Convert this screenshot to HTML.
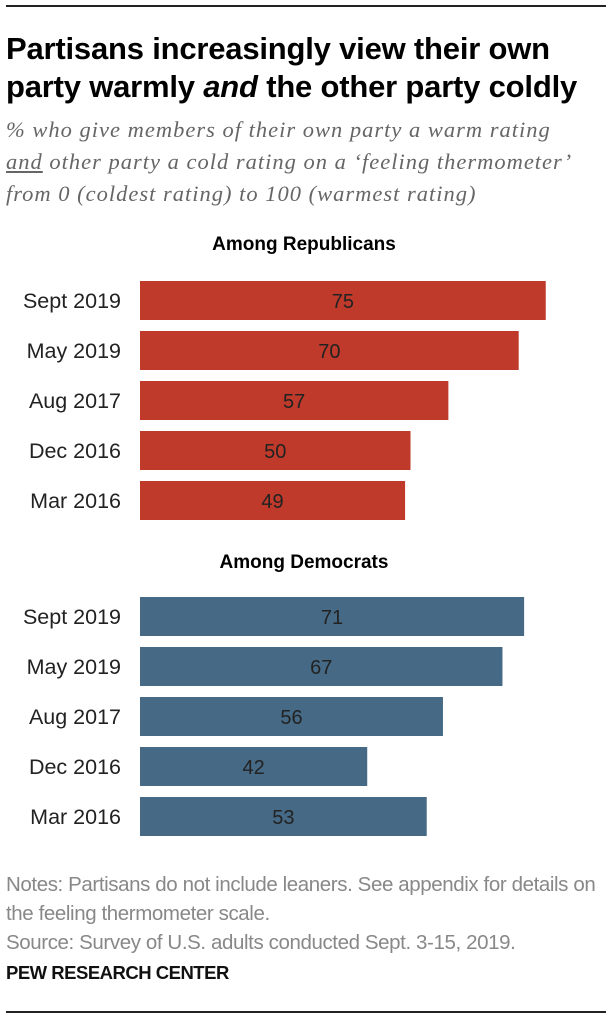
<!DOCTYPE html>
<html><head><meta charset="utf-8"><style>
body{margin:0;width:608px;height:1024px;background:#fff;position:relative;overflow:hidden;font-family:"Liberation Sans",sans-serif}
.abs{position:absolute}
</style></head><body>
<div class="abs" style="left:6px;top:5px;width:600px;height:2px;background:#222"></div>
<div class="abs" style="left:6px;top:30px;width:610px;font-size:31px;font-weight:bold;line-height:38px;color:#000;letter-spacing:-0.2px;white-space:nowrap">Partisans increasingly view their own<br>party warmly <i>and</i> the other party coldly</div>
<div class="abs" style="left:6px;top:114px;width:610px;font-family:'Liberation Serif',serif;font-style:italic;font-size:22.5px;line-height:32px;color:#666;letter-spacing:1px;white-space:nowrap">% who give members of their own party a warm rating<br><u>and</u> other party a cold rating on a ‘feeling thermometer’<br>from 0 (coldest rating) to 100 (warmest rating)</div>
<svg class="abs" style="left:0;top:0" width="608" height="1024" id="chart"></svg>
<div class="abs" style="left:6px;top:870px;width:610px;font-size:20.5px;line-height:30px;color:#888;white-space:nowrap;letter-spacing:-0.4px"><div style="line-height:29px">Notes: Partisans do not include leaners. See appendix for details on<br>the feeling thermometer scale.</div><div style="line-height:30px">Source: Survey of U.S. adults conducted Sept. 3-15, 2019.</div></div>
<div class="abs" style="left:6px;top:962px;font-size:18.5px;font-weight:bold;color:#111;letter-spacing:-0.5px">PEW RESEARCH CENTER</div>
<div class="abs" style="left:6px;top:1011px;width:600px;height:2px;background:#222"></div>
<script>
const categories=["Sept 2019","May 2019","Aug 2017","Dec 2016","Mar 2016"];
const repValues=[75,70,57,50,49];
const demValues=[71,67,56,42,53];
const svg=document.getElementById('chart');
const NS='http://www.w3.org/2000/svg';
const x0=140,scale=5.41;
function xPos(v){return x0+v*scale;}
function group(title,titleY,top,vals,color,key){
  const t=document.createElementNS(NS,'text');
  
  
  t.setAttribute('x',304);t.setAttribute('y',titleY);t.setAttribute('text-anchor','middle');
  t.setAttribute('font-size','19');t.setAttribute('font-weight','bold');t.setAttribute('font-family','Liberation Sans, sans-serif');
  t.textContent=title;svg.appendChild(t);
  vals.forEach((v,i)=>{
    const y=top+i*50;
    const r=document.createElementNS(NS,'rect');
    
    
    r.setAttribute('x',x0);r.setAttribute('y',y);r.setAttribute('width',xPos(v)-x0);r.setAttribute('height',39);r.setAttribute('fill',color);
    svg.appendChild(r);
    const l=document.createElementNS(NS,'text');
    
    
    l.setAttribute('x',121);l.setAttribute('y',y+27);l.setAttribute('text-anchor','end');l.setAttribute('font-size','21.5');l.setAttribute('fill','#222');l.setAttribute('font-family','Liberation Sans, sans-serif');
    l.textContent=categories[i];svg.appendChild(l);
    const n=document.createElementNS(NS,'text');
    
    
    n.setAttribute('x',(x0+xPos(v))/2);n.setAttribute('y',y+27);n.setAttribute('text-anchor','middle');n.setAttribute('font-size','20');n.setAttribute('fill','#222');n.setAttribute('font-family','Liberation Sans, sans-serif');
    n.textContent=v;svg.appendChild(n);
  });
}
group('Among Republicans',250,281,repValues,'#bf3a2b','rep');
group('Among Democrats',568,597,demValues,'#466a85','dem');
</script>
</body></html>
